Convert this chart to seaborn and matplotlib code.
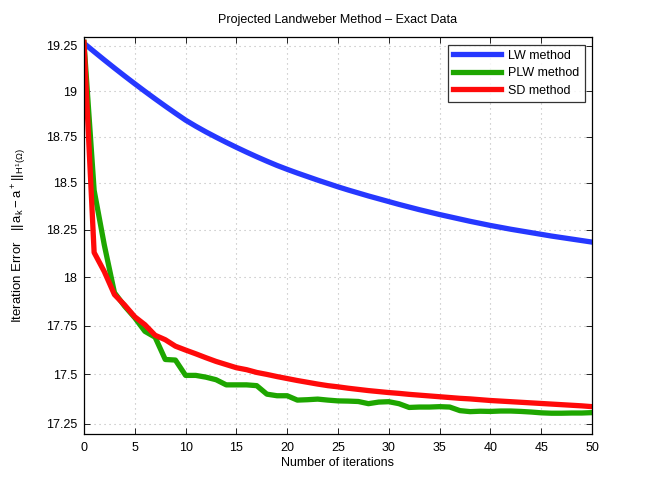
import numpy as np
import pandas as pd
import seaborn as sns
import matplotlib.pyplot as plt
import matplotlib.ticker as tick

plt.rcParams['font.family'] = ['Liberation Sans', 'DejaVu Sans']
plt.rcParams['mathtext.fontset'] = 'custom'
plt.rcParams['mathtext.rm'] = 'Liberation Sans'
plt.rcParams['mathtext.it'] = 'Liberation Sans'

iterations = list(range(51))

lw_error = [19.265, 19.218, 19.172, 19.127, 19.083, 19.040, 18.998, 18.957, 18.917, 18.878,
            18.840, 18.807, 18.776, 18.747, 18.719, 18.692, 18.666, 18.641, 18.617, 18.594,
            18.573, 18.553, 18.534, 18.515, 18.497, 18.479, 18.462, 18.446, 18.430, 18.415,
            18.400, 18.385, 18.371, 18.357, 18.344, 18.331, 18.319, 18.307, 18.295, 18.284,
            18.273, 18.263, 18.253, 18.244, 18.235, 18.226, 18.217, 18.209, 18.201, 18.193,
            18.185]

plw_error = [19.27, 18.46, 18.17, 17.92, 17.85, 17.79, 17.72, 17.69, 17.576, 17.573,
             17.495, 17.495, 17.486, 17.473, 17.447, 17.447, 17.447, 17.443, 17.400, 17.392,
             17.392, 17.370, 17.372, 17.375, 17.370, 17.366, 17.365, 17.363, 17.352, 17.360,
             17.362, 17.352, 17.333, 17.335, 17.335, 17.337, 17.335, 17.317, 17.312, 17.314,
             17.313, 17.315, 17.315, 17.313, 17.310, 17.306, 17.304, 17.304, 17.305, 17.305,
             17.307]

sd_error = [19.27, 18.13, 18.03, 17.91, 17.856, 17.795, 17.754, 17.700, 17.677, 17.644,
            17.624, 17.605, 17.585, 17.566, 17.550, 17.534, 17.524, 17.510, 17.500, 17.489,
            17.479, 17.469, 17.460, 17.451, 17.443, 17.437, 17.430, 17.424, 17.418, 17.413,
            17.408, 17.404, 17.399, 17.395, 17.391, 17.387, 17.383, 17.379, 17.376, 17.372,
            17.368, 17.365, 17.362, 17.359, 17.356, 17.353, 17.350, 17.347, 17.344, 17.341,
            17.337]

methods = ['LW method', 'PLW method', 'SD method']
colors = ['#2638ff', '#1ea600', '#ff0a0a']
y_ticks = [17.25, 17.5, 17.75, 18, 18.25, 18.5, 18.75, 19, 19.25]
y_labels = ['17.25', '17.5', '17.75', '18', '18.25', '18.5', '18.75', '19', '19.25']

df = pd.DataFrame({
    'iter': iterations * 3,
    'error': lw_error + plw_error + sd_error,
    'method': [m for m in methods for _ in iterations],
})

fig = plt.figure(figsize=(6.54, 4.91), dpi=100)
ax = fig.add_axes([0.1284, 0.1161, 0.7768, 0.8085])

sns.lineplot(data=df, x='iter', y='error', hue='method', hue_order=methods,
             palette=colors, linewidth=3.8, ax=ax)

ax.set_yscale('log')
ax.set_xlim(0, 50)
ax.set_ylim(17.2, 19.3)
ax.set_xticks(range(0, 51, 5))
ax.yaxis.set_major_locator(tick.FixedLocator(y_ticks))
ax.yaxis.set_major_formatter(tick.FixedFormatter(y_labels))
ax.yaxis.set_minor_locator(tick.NullLocator())

ax.tick_params(direction='in', top=True, right=True, labelsize=9, length=4, width=0.6)
ax.tick_params(axis='x', pad=6)
ax.tick_params(axis='y', pad=5)
for sp in ax.spines.values():
    sp.set_color('black')
    sp.set_linewidth(0.9)

ax.grid(True, linestyle=(0, (1, 3.5)), color='#b8b8b8', linewidth=0.8)

ax.set_title('Projected Landweber Method \u2013 Exact Data', fontsize=9, pad=10)
ax.set_xlabel('Number of iterations', fontsize=9, labelpad=2)
ax.set_ylabel(r'Iteration Error   $||\,a_k - a^+||_{H^1(\Omega)}$', fontsize=9.5, labelpad=12)

leg = ax.legend(loc='upper right', fontsize=9, frameon=True, fancybox=False,
                edgecolor='black', handlelength=3.8, borderaxespad=0.6,
                labelspacing=0.45, borderpad=0.4, handletextpad=0.6)
leg.get_frame().set_linewidth(0.9)

fig.savefig('out.png', dpi=100)
